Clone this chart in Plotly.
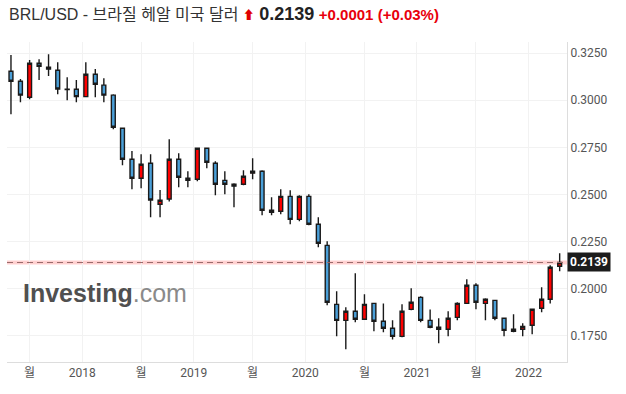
import pandas as pd
import plotly.graph_objects as go

# Monthly candles, May 2017 .. Apr 2022
months = pd.date_range("2017-05-01", periods=60, freq="MS")

open_ = [0.3154, 0.3101, 0.3016, 0.3196, 0.3175, 0.3159, 0.3059, 0.3058, 0.3019, 0.3138, 0.3080, 0.3027,
         0.2851, 0.2687, 0.2586, 0.2666, 0.2448, 0.2476, 0.2687, 0.2586,
         0.2581, 0.2745, 0.2666, 0.2575, 0.2554, 0.2554, 0.2613, 0.2623, 0.2416, 0.2411, 0.2490, 0.2368,
         0.2490, 0.2342, 0.2230, 0.1917, 0.1832, 0.1880, 0.1838, 0.1922, 0.1827, 0.1790, 0.1747, 0.1890,
         0.1954, 0.1832, 0.1795, 0.1785, 0.1848, 0.1922, 0.2018, 0.1922, 0.1938, 0.1843, 0.1785, 0.1785,
         0.1806, 0.1896, 0.1944, 0.2119]
high = [0.3240, 0.3113, 0.3214, 0.3218, 0.3244, 0.3202, 0.3122, 0.3108, 0.3202, 0.3166, 0.3117, 0.3032,
        0.2853, 0.2731, 0.2713, 0.2713, 0.2524, 0.2793, 0.2719, 0.2623,
        0.2748, 0.2748, 0.2676, 0.2623, 0.2559, 0.2628, 0.2692, 0.2628, 0.2485, 0.2528, 0.2522, 0.2496,
        0.2501, 0.2379, 0.2252, 0.1986, 0.1901, 0.2082, 0.1970, 0.1925, 0.1922, 0.1832, 0.1917, 0.2002,
        0.1960, 0.1889, 0.1843, 0.1880, 0.1928, 0.2050, 0.2029, 0.1949, 0.1940, 0.1845, 0.1864, 0.1816,
        0.1893, 0.2007, 0.2124, 0.2188]
low = [0.2926, 0.2989, 0.3005, 0.3108, 0.3129, 0.3032, 0.3000, 0.2989, 0.3017, 0.3016, 0.2989, 0.2846,
       0.2655, 0.2528, 0.2533, 0.2379, 0.2379, 0.2462, 0.2538, 0.2538,
       0.2570, 0.2639, 0.2496, 0.2501, 0.2432, 0.2549, 0.2581, 0.2390, 0.2390, 0.2395, 0.2342, 0.2358,
       0.2337, 0.2220, 0.1912, 0.1747, 0.1678, 0.1822, 0.1836, 0.1774, 0.1769, 0.1731, 0.1742, 0.1885,
       0.1822, 0.1790, 0.1710, 0.1747, 0.1832, 0.1920, 0.1891, 0.1832, 0.1832, 0.1747, 0.1769, 0.1747,
       0.1758, 0.1875, 0.1922, 0.2092]
close = [0.3101, 0.3027, 0.3196, 0.3180, 0.3165, 0.3060, 0.3057, 0.3019, 0.3138, 0.3085, 0.3027, 0.2857,
         0.2687, 0.2586, 0.2660, 0.2471, 0.2469, 0.2687, 0.2591, 0.2575,
         0.2745, 0.2671, 0.2554, 0.2554, 0.2544, 0.2597, 0.2623, 0.2416, 0.2406, 0.2490, 0.2368, 0.2490,
         0.2342, 0.2241, 0.1928, 0.1832, 0.1880, 0.1838, 0.1917, 0.1827, 0.1790, 0.1747, 0.1880, 0.1928,
         0.1832, 0.1795, 0.1785, 0.1843, 0.1922, 0.2018, 0.1928, 0.1944, 0.1843, 0.1779, 0.1774, 0.1800,
         0.1891, 0.1944, 0.2114, 0.2139]

y_ticks = [0.175, 0.200, 0.225, 0.250, 0.275, 0.300, 0.325]
x_tick_dates = ["2017-07-13", "2018-01-01", "2018-07-13", "2019-01-01", "2019-07-13",
                "2020-01-01", "2020-07-13", "2021-01-01", "2021-07-13", "2022-01-01"]
x_tick_text = ["월", "2018", "월", "2019", "월", "2020", "월", "2021", "월", "2022"]

last_price = 0.2139
change_text = "+0.0001 (+0.03%)"

x = months + pd.Timedelta(days=12)

fig = go.Figure()
fig.add_trace(go.Candlestick(
    x=x, open=open_, high=high, low=low, close=close,
    increasing=dict(fillcolor="#ff0000", line=dict(color="#1a1a1a", width=1.4)),
    decreasing=dict(fillcolor="#4a9fd8", line=dict(color="#1a1a1a", width=1.4)),
    whiskerwidth=0, showlegend=False,
))

# current price line
fig.add_shape(type="line", xref="paper", x0=0, x1=1, yref="y", y0=last_price, y1=last_price,
              line=dict(color="rgba(255,120,120,0.35)", width=4), layer="below")
fig.add_shape(type="line", xref="paper", x0=0, x1=1, yref="y", y0=last_price, y1=last_price,
              line=dict(color="#9a6b6b", width=1.2, dash="6px,4px"))

fig.add_annotation(xref="paper", x=1.0, xanchor="left", yref="y", y=last_price, yanchor="middle",
                   text="<b>%.4f</b>" % last_price, showarrow=False,
                   font=dict(family="Roboto, Arial", size=12, color="white"),
                   bgcolor="#1c1c1c", borderpad=2, xshift=0)

title = ("BRL/USD - 브라질 헤알 미국 달러 "
         "<span style='color:#e00000;font-size:12px'>⬆</span> "
         "<span style='font-size:18px;color:#222'><b>%.4f</b></span> "
         "<span style='color:#e8000b;font-size:15px'><b>%s</b></span>") % (last_price, change_text)
fig.add_annotation(xref="paper", yref="paper", x=0, y=1, xanchor="left", yanchor="bottom",
                   xshift=0, yshift=16, text=title, showarrow=False,
                   font=dict(family="Liberation Sans, Arial, 'Noto Sans CJK KR'", size=16, color="#333"))

fig.add_annotation(xref="paper", yref="paper", x=0.025, y=0.215, xanchor="left", yanchor="middle",
                   text="<b>Investing</b><span style='color:#8a8a8a'>.com</span>", showarrow=False,
                   font=dict(family="Liberation Sans, Arial", size=25, color="#505050"))

fig.update_layout(
    width=626, height=394,
    margin=dict(l=7, r=59, t=42, b=32),
    paper_bgcolor="white", plot_bgcolor="white",
    boxgap=0.35,
    xaxis=dict(
        range=["2017-04-30", "2022-05-07"],
        rangeslider=dict(visible=False),
        tickmode="array", tickvals=x_tick_dates, ticktext=x_tick_text,
        showgrid=True, gridcolor="#f2f2f2", gridwidth=1,
        showline=True, linecolor="#dddddd", linewidth=1,
        ticks="", zeroline=False,
        tickfont=dict(family="Roboto, 'Noto Sans CJK KR'", size=12, color="#555"),
    ),
    yaxis=dict(
        side="right", range=[0.1611, 0.3309],
        tickmode="array", tickvals=y_ticks, ticktext=["%.4f" % v for v in y_ticks],
        showgrid=True, gridcolor="#f2f2f2", gridwidth=1,
        showline=True, linecolor="#dddddd", linewidth=1,
        ticks="", zeroline=False, ticklabelstandoff=0,
        tickfont=dict(family="Roboto", size=12, color="#555"),
    ),
)

fig.write_html("out.html", config={"displayModeBar": False},
               post_script="document.body.style.margin='0px';")
